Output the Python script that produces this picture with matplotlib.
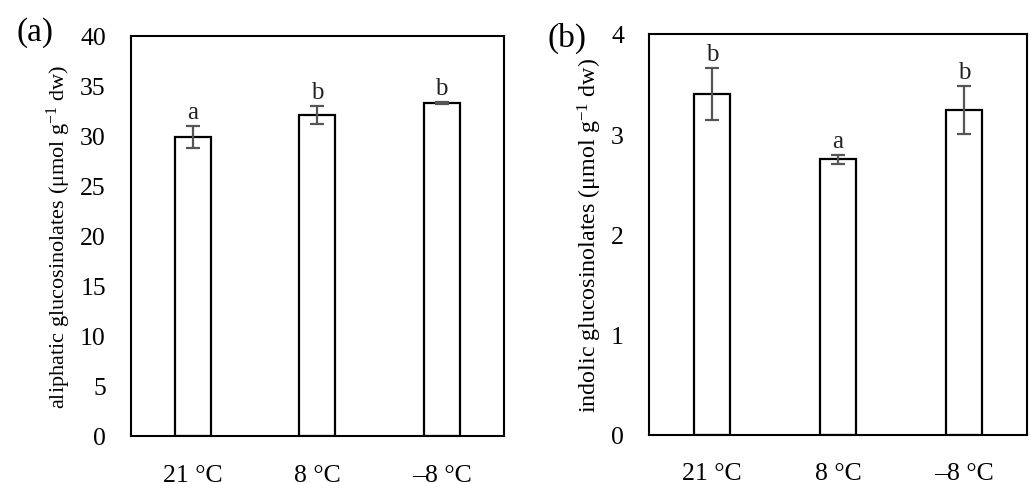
import matplotlib
matplotlib.use('Agg')
import matplotlib.pyplot as plt
import numpy as np

plt.rcParams['font.family'] = ['Liberation Serif', 'DejaVu Serif']
plt.rcParams['mathtext.fontset'] = 'custom'
plt.rcParams['mathtext.rm'] = 'Liberation Serif'
plt.rcParams['mathtext.it'] = 'Liberation Serif:italic'

categories = ['21 °C', '8 °C', '–8 °C']

aliphatic = [29.9, 32.1, 33.3]
aliphatic_err = [1.1, 0.9, 0.1]
aliphatic_letters = ['a', 'b', 'b']

indolic = [3.40, 2.75, 3.24]
indolic_err = [0.26, 0.045, 0.24]
indolic_letters = ['b', 'a', 'b']

fig = plt.figure(figsize=(10.3, 4.85), dpi=100)
ax_a = fig.add_axes([0.127, 0.099, 0.362, 0.825])
ax_b = fig.add_axes([0.630, 0.102, 0.367, 0.826])


def draw_panel(ax, values, errs, letters, ymax, step, ylabel, letter_gap, ylabel_size):
    x = np.arange(len(categories))
    ax.bar(x, values, width=0.29, color='white', edgecolor='black', linewidth=1.6, zorder=2)
    ax.errorbar(x, values, yerr=errs, fmt='none', ecolor='#555555',
                elinewidth=1.6, capsize=5, capthick=1.6, zorder=3)
    for xi, v, e, lab in zip(x, values, errs, letters):
        ax.text(xi, v + e + letter_gap, lab, ha='center', va='bottom',
                fontsize=18, color='#222222')
    ax.set_xlim(-0.5, 2.5)
    ax.set_ylim(0, ymax)
    ax.set_yticks(np.arange(0, ymax + step / 2, step))
    ax.set_xticks(x)
    ax.set_xticklabels(categories)
    ax.tick_params(axis='both', length=0, labelsize=18.5)
    ax.tick_params(axis='x', pad=20)
    ax.tick_params(axis='y', pad=18)
    for sp in ax.spines.values():
        sp.set_linewidth(1.5)
        sp.set_color('black')
    ax.set_ylabel(ylabel, fontsize=ylabel_size, labelpad=5)


draw_panel(ax_a, aliphatic, aliphatic_err, aliphatic_letters, 40, 5,
           r'aliphatic glucosinolates (μmol g$^{\mathrm{-1}}$ dw)', 0.25, 16)
draw_panel(ax_b, indolic, indolic_err, indolic_letters, 4, 1,
           r'indolic glucosinolates (μmol g$^{\mathrm{-1}}$ dw)', 0.025, 17.3)

fig.text(35 / 1030, 1 - 33 / 485, '(a)', fontsize=24, ha='center', va='center')
fig.text(567 / 1030, 1 - 38 / 485, '(b)', fontsize=24, ha='center', va='center')

fig.savefig('out.png', dpi=100)
